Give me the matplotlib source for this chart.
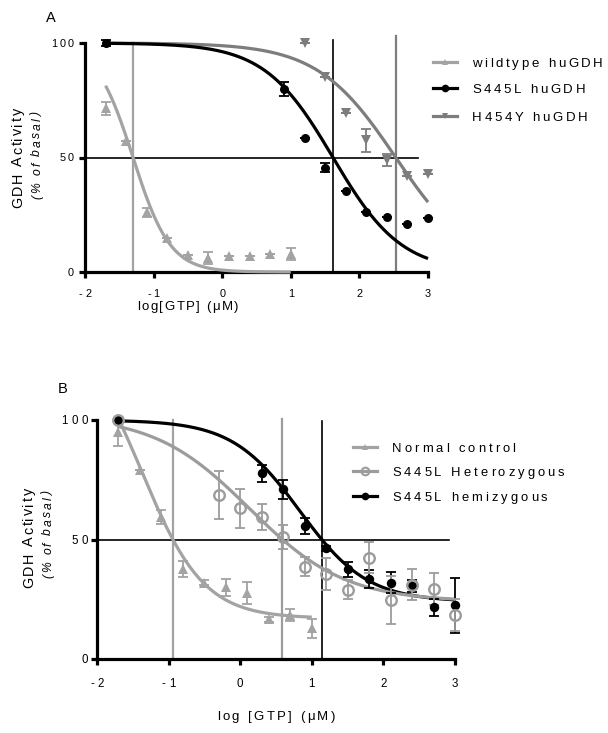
import numpy as np
import matplotlib
matplotlib.use('Agg')
import matplotlib.pyplot as plt
from matplotlib.font_manager import FontProperties
import matplotlib.transforms as mtrans
from matplotlib.lines import Line2D

# ---------------- data ----------------
# Panel A
wt_x = [-1.7, -1.4, -1.1, -0.8, -0.5, -0.2, 0.1, 0.4, 0.7, 1.0]
wt_y = [71.5, 57, 26, 15, 7.5, 6.2, 7, 7, 8, 7.8]
wt_e = [2.8, 0, 2.0, 0, 0, 2.6, 0, 0, 0, 2.6]

s4_x = [-1.7, 0.9, 1.2, 1.5, 1.8, 2.1, 2.4, 2.7, 3.0]
s4_y = [100, 80, 58.5, 45.5, 35.4, 26, 24, 21, 23.5]
s4_e = [1.2, 3.0, 0, 2.0, 0, 0, 0, 0, 0]

h4_x = [1.2, 1.5, 1.8, 2.1, 2.4, 2.7, 3.0]
h4_y = [100, 85, 69.5, 57.6, 49, 42, 43]
h4_e = [0, 0, 0, 5.0, 2.5, 0, 0]

# fitted curves (top, bottom, logIC50, hill)
wt_fit = (100, 0, -1.30, 1.6)
s4_fit = (100, 0, 1.615, 0.87)
h4_fit = (100, 0, 2.53, 0.76)

# Panel B
nc_x = [-1.7, -1.4, -1.1, -0.8, -0.5, -0.2, 0.1, 0.4, 0.7, 1.0]
nc_y = [95, 79, 59.5, 37.6, 32, 30, 27.7, 16.6, 18.4, 12.8]
nc_e = [6.0, 0, 3.0, 3.2, 1.2, 3.5, 4.5, 1.0, 2.5, 4.0]

he_x = [-1.7, -0.3, 0.0, 0.3, 0.6, 0.9, 1.2, 1.5, 1.8, 2.1, 2.4, 2.7, 3.0]
he_y = [100, 68.6, 63, 59.5, 51, 38.6, 35.5, 29, 42.4, 24.7, 31, 29.3, 18.4]
he_e = [0, 10, 8, 5.5, 5, 4, 6.6, 4, 6.5, 10, 6.5, 6.5, 6.5]

hm_x = [-1.7, 0.3, 0.6, 0.9, 1.2, 1.5, 1.8, 2.1, 2.4, 2.7, 3.0]
hm_y = [100, 77.7, 71, 55.6, 46.3, 37.5, 33.3, 32, 30.5, 21.6, 22.5]
hm_e = [0, 3.5, 4, 3.5, 1, 3, 3.8, 4.5, 2.5, 3.5, 11.5]

nc_fit = (140, 17, -1.376, 1.0)
he_fit = (102, 24, 0.127, 0.65)
hm_fit = (100, 24, 0.831, 0.92)

xticks = [-2, -1, 0, 1, 2, 3]
yticks = [0, 50, 100]

legA = ['wildtype huGDH', 'S445L huGDH', 'H454Y huGDH']
legB = ['Normal control', 'S445L Heterozygous', 'S445L hemizygous']

LIGHT = '#a3a3a3'
MID = '#7d7d7d'
HET = '#9c9c9c'

# ---------------- helpers ----------------
DPI = 100
W, H = 608, 733
fig = plt.figure(figsize=(W / DPI, H / DPI), dpi=DPI)
renderer = fig.canvas.get_renderer()
FAMILY = 'Liberation Sans'


def fourpl(x, p):
    top, bot, c, h = p
    return bot + (top - bot) / (1 + 10 ** ((x - c) * h))


def x_at_50(p):
    top, bot, c, h = p
    return c + np.log10((top - bot) / (50 - bot) - 1) / h


def advances(s, prop):
    base = renderer.get_text_width_height_descent('||', prop, ismath=False)[0]
    return [renderer.get_text_width_height_descent('|' + ch + '|', prop, ismath=False)[0] - base
            for ch in s]


def stext(x, y, s, size, spacing, transform, ha='center', va='center', rotation=0,
          style='normal', color='black', off=(0, 0)):
    prop = FontProperties(family=FAMILY, size=size, style=style)
    adv = advances(s, prop)
    total = sum(adv) + spacing * (len(s) - 1)
    start = {'center': -total / 2, 'right': -total, 'left': 0}[ha]
    cap = 0.716 * size * DPI / 72
    perp = {'center': -cap / 2, 'top': -cap, 'baseline': 0}[va]
    pos = start
    for ch, w in zip(s, adv):
        if rotation == 0:
            dx, dy = pos, perp
        else:
            dx, dy = -perp, pos
        tr = transform + mtrans.ScaledTranslation((dx + off[0]) / DPI, (dy + off[1]) / DPI,
                                                  fig.dpi_scale_trans)
        fig.text(x, y, ch, transform=tr, fontproperties=prop, ha='left', va='baseline',
                 rotation=rotation, rotation_mode='anchor', color=color)
        pos += w + spacing


def make_axes(left, bottom_px, right, top_px):
    ax = fig.add_axes([left / W, 1 - bottom_px / H, (right - left) / W, (bottom_px - top_px) / H])
    ax.set_xlim(-2, 3)
    ax.set_ylim(0, 100)
    for sp in ['top', 'right']:
        ax.spines[sp].set_visible(False)
    for sp in ['left', 'bottom']:
        ax.spines[sp].set_linewidth(2.3)
        ax.spines[sp].set_capstyle('projecting')
    ax.set_xticks(xticks)
    ax.set_yticks(yticks)
    ax.tick_params(direction='out', length=4, width=2.3, labelleft=False, labelbottom=False)
    ax.patch.set_visible(False)
    return ax


def tick_labels(ax, size, spacing, xoff, yoff):
    tx = mtrans.blended_transform_factory(ax.transData, ax.transAxes)
    for t in xticks:
        stext(t, 0, str(t), size, spacing, tx, ha='center', va='center', off=(0, -yoff))
    ty = mtrans.blended_transform_factory(ax.transAxes, ax.transData)
    for t in yticks:
        stext(0, t, str(t), size, spacing, ty, ha='right', va='center', off=(-xoff, 0))


def series(ax, x, y, e, fit, xr, color, marker, ms, mfc, mew=0, ecolor=None):
    xx = np.linspace(xr[0], xr[1], 300)
    ax.plot(xx, fourpl(xx, fit), color=color, lw=2.3, solid_capstyle='butt', clip_on=False, zorder=3)
    ax.errorbar(x, y, yerr=e, fmt='none', ecolor=ecolor or color, elinewidth=1.3, capsize=3.4,
                capthick=1.3, clip_on=False, zorder=4)
    ax.plot(x, y, ls='none', marker=marker, ms=ms, color=color, mfc=mfc, mec=color, mew=mew,
            clip_on=False, zorder=5)


def legend(rows_px, x0, x1, xt, labels, styles, size, spacing):
    for yp, lab, st in zip(rows_px, labels, styles):
        color, marker, ms, mfc, mew = st
        yf = 1 - yp / H
        fig.add_artist(Line2D([x0 / W, x1 / W], [yf, yf], transform=fig.transFigure,
                              color=color, lw=2.3))
        fig.add_artist(Line2D([(x0 + x1) / 2 / W], [yf], transform=fig.transFigure,
                              marker=marker, ms=ms, color=color, mfc=mfc, mec=color, mew=mew, ls='none'))
        stext(xt / W, yf, lab, size, spacing, fig.transFigure, ha='left', va='center')


# ---------------- Panel A ----------------
axA = make_axes(85, 272, 428, 43)
ic_wt, ic_s4, ic_h4 = x_at_50(wt_fit), x_at_50(s4_fit), x_at_50(h4_fit)
axA.plot([-2, 2.85], [50, 50], color='black', lw=1.2, zorder=1)
axA.plot([ic_wt, ic_wt], [0, 100], color=LIGHT, lw=1.6, zorder=1, clip_on=False)
axA.plot([ic_s4, ic_s4], [0, 101.5], color='black', lw=1.2, zorder=1, clip_on=False)
axA.plot([ic_h4, ic_h4], [0, 103], color=MID, lw=1.6, zorder=1, clip_on=False)

series(axA, wt_x, wt_y, wt_e, wt_fit, (-1.7, 1.0), LIGHT, '^', 6.5, LIGHT)
series(axA, h4_x, h4_y, h4_e, h4_fit, (-1.7, 3.0), MID, 'v', 6.5, MID)
series(axA, s4_x, s4_y, s4_e, s4_fit, (-1.7, 3.0), 'black', 'o', 6.5, 'black')

tick_labels(axA, 7.8, 2.4, 11, 21)
stext(-0.5, 0, 'log[GTP] (μM)', 9.5, 1.5,
      mtrans.blended_transform_factory(axA.transData, axA.transAxes), off=(0, -33))
stext(17 / W, 1 - 158 / H, 'GDH Activity', 10.4, 1.6, fig.transFigure, rotation=90)
stext(36 / W, 1 - 156 / H, '(% of basal)', 8.7, 2.0, fig.transFigure, rotation=90, style='italic')
stext(51 / W, 1 - 17 / H, 'A', 10.5, 0, fig.transFigure)

legend([62, 88, 116], 433, 457, 472, legA,
       [(LIGHT, '^', 5, LIGHT, 0), ('black', 'o', 5.5, 'black', 0), (MID, 'v', 5, MID, 0)],
       9.5, 2.7)

# ---------------- Panel B ----------------
axB = make_axes(97, 659, 455, 420)
ic_nc, ic_he, ic_hm = x_at_50(nc_fit), x_at_50(he_fit), x_at_50(hm_fit)
axB.plot([-2, 2.92], [50, 50], color='black', lw=1.2, zorder=1)
axB.plot([ic_nc, ic_nc], [0, 100], color=LIGHT, lw=1.6, zorder=1, clip_on=False)
axB.plot([ic_he, ic_he], [0, 100.5], color=HET, lw=1.6, zorder=1, clip_on=False)
axB.plot([ic_hm, ic_hm], [0, 99.5], color='black', lw=1.2, zorder=1, clip_on=False)

series(axB, nc_x, nc_y, nc_e, nc_fit, (-1.7, 1.0), LIGHT, '^', 6.5, LIGHT)
series(axB, hm_x, hm_y, hm_e, hm_fit, (-1.7, 3.0), 'black', 'o', 6.8, 'black')
series(axB, he_x, he_y, he_e, he_fit, (-1.7, 3.0), HET, 'o', 7.6, 'none', mew=1.7)

tick_labels(axB, 8.3, 3.6, 9, 24)
stext(0.5, 0, 'log [GTP] (μM)', 9.5, 2.4,
      mtrans.blended_transform_factory(axB.transData, axB.transAxes), off=(0, -56))
stext(28 / W, 1 - 538 / H, 'GDH Activity', 10.4, 1.6, fig.transFigure, rotation=90)
stext(47 / W, 1 - 535 / H, '(% of basal)', 8.7, 2.0, fig.transFigure, rotation=90, style='italic')
stext(63 / W, 1 - 388 / H, 'B', 10.5, 0, fig.transFigure)

legend([447, 471, 496], 353, 377, 392, legB,
       [(LIGHT, '^', 5, LIGHT, 0), (HET, 'o', 5.5, 'none', 1.5), ('black', 'o', 5.5, 'black', 0)],
       9.4, 3.0)

fig.savefig('out.png', dpi=DPI)
